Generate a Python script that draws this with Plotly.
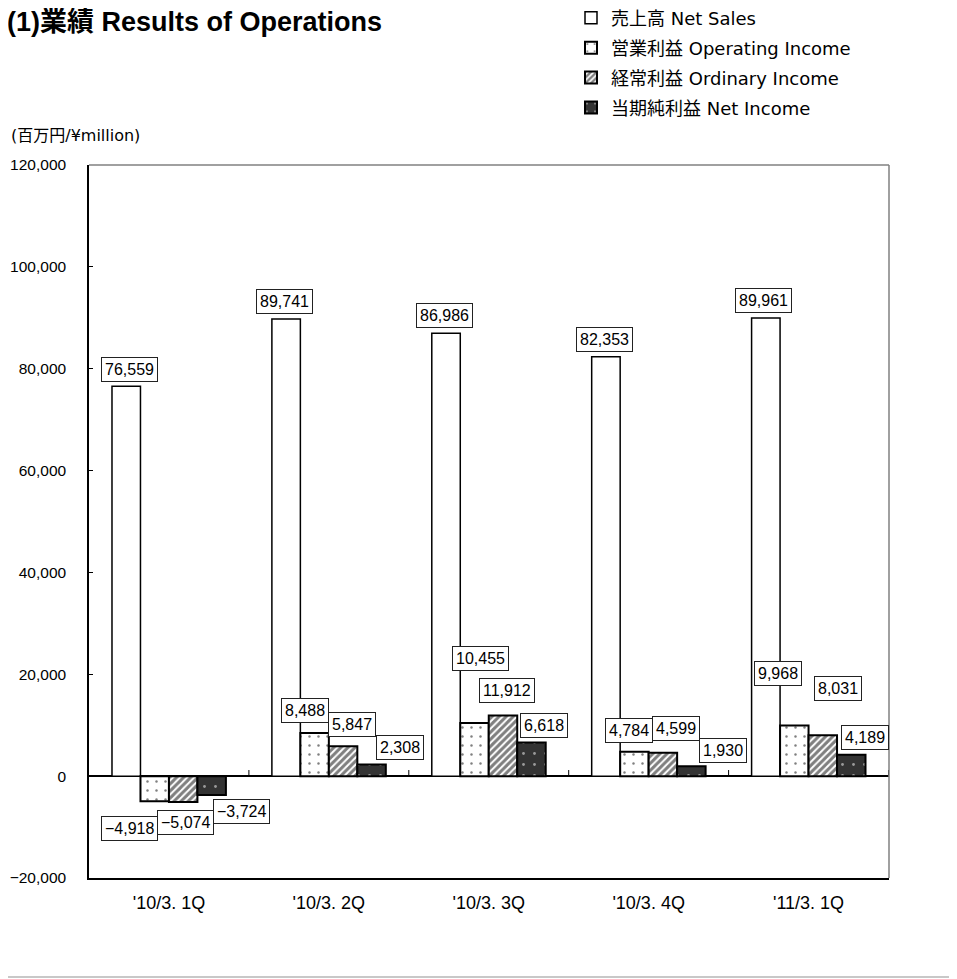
import plotly.graph_objects as go

# ---- data ----
categories = ["'10/3. 1Q", "'10/3. 2Q", "'10/3. 3Q", "'10/3. 4Q", "'11/3. 1Q"]
net_sales = [76559, 89741, 86986, 82353, 89961]
operating_income = [-4918, 8488, 10455, 4784, 9968]
ordinary_income = [-5074, 5847, 11912, 4599, 8031]
net_income = [-3724, 2308, 6618, 1930, 4189]
series_names = ["売上高 Net Sales", "営業利益 Operating Income",
                "経常利益 Ordinary Income", "当期純利益 Net Income"]
y_ticks = [-20000, 0, 20000, 40000, 60000, 80000, 100000, 120000]

# ---- label offsets (pixels, style only) ----
label_dx = [[-39, -44.5, -44, -44, -45.5],
            [-39.5, -24, -8, -19.5, -31],
            [17, 23, 18, 27, 29.5],
            [73, 71.5, 55, 74, 56]]
label_dy = [[17.2, 18, 17.6, 17.7, 17.9],
            [-26.9, 22.9, 64.9, 21.7, 52.3],
            [-20.1, 22.3, 25.4, 24.7, 46.7],
            [-15.9, 17.3, 17.4, 16.3, 17.8]]

LATIN = "Liberation Sans, Noto Sans CJK JP, sans-serif"
WIDE = "DejaVu Sans, Noto Sans CJK JP, sans-serif"

all_series = [net_sales, operating_income, ordinary_income, net_income]
styles = [
    dict(color="white", line=dict(color="black", width=1.5)),
    dict(color="white", line=dict(color="black", width=2),
         pattern=dict(shape=".", fgcolor="black", bgcolor="white", size=9, solidity=0.06)),
    dict(color="white", line=dict(color="black", width=2),
         pattern=dict(shape="/", fgcolor="black", bgcolor="white", size=5, solidity=0.6)),
    dict(color="#333333", line=dict(color="black", width=2),
         pattern=dict(shape=".", fgcolor="white", bgcolor="#333333", size=11, solidity=0.05)),
]

fig = go.Figure()
for name, vals, st, g in zip(series_names, all_series, styles, range(4)):
    fig.add_trace(go.Bar(x=categories, y=vals, name=name, marker=st,
                         legendgroup=f"g{g}", hoverinfo="x+y"))

def fmt(v):
    s = f"{abs(v):,}"
    return ("\u2212" + s) if v < 0 else s

annotations = []
for si, vals in enumerate(all_series):
    for ci, v in enumerate(vals):
        annotations.append(dict(
            x=categories[ci], y=v, xref="x", yref="y", text=fmt(v),
            showarrow=False, xanchor="center", yanchor="middle",
            xshift=label_dx[si][ci], yshift=label_dy[si][ci],
            font=dict(family=LATIN, size=16, color="black"),
            bgcolor="white", bordercolor="#222222", borderwidth=1, borderpad=3))

# title
annotations.append(dict(
    x=-0.105, y=1.2006, xref="paper", yref="paper",
    text="<b>(1)業績 Results of Operations</b>",
    showarrow=False, xanchor="left", yanchor="middle",
    font=dict(family=LATIN, size=27, color="black")))
# unit label
annotations.append(dict(
    x=-0.1, y=1.041, xref="paper", yref="paper", text="(百万円/¥million)",
    showarrow=False, xanchor="left", yanchor="middle",
    font=dict(family=WIDE, size=16, color="black")))

shapes = []
# category-boundary tick marks on the zero line
for b in [0.5, 1.5, 2.5, 3.5, 4.5]:
    shapes.append(dict(type="line", xref="x", yref="y", x0=b, x1=b, y0=0, y1=1200,
                       line=dict(color="black", width=1)))
# top and right frame lines (gray)
shapes.append(dict(type="line", xref="paper", yref="paper", x0=0, x1=1, y0=1, y1=1,
                   line=dict(color="#808080", width=1.5)))
shapes.append(dict(type="line", xref="paper", yref="paper", x0=1, x1=1, y0=0, y1=1,
                   line=dict(color="#808080", width=1.5)))
# page bottom rule
shapes.append(dict(type="line", xref="paper", yref="paper", x0=-0.12, x1=1.1,
                   y0=-0.1389, y1=-0.1389, line=dict(color="#c8c8c8", width=2)))

fig.update_layout(
    width=949, height=971,
    margin=dict(l=81, r=68, t=157, b=101, autoexpand=False),
    paper_bgcolor="white", plot_bgcolor="white",
    barmode="group", bargap=0.2875, bargroupgap=0,
    legend=dict(x=0.6025, y=1.232, xanchor="left", yanchor="top",
                font=dict(family=WIDE, size=18, color="black"),
                bgcolor="rgba(0,0,0,0)", traceorder="grouped", tracegroupgap=3.5,
                itemclick=False),
    showlegend=True,
    annotations=annotations,
    shapes=shapes,
)
fig.update_xaxes(showline=True, linecolor="black", linewidth=1.5, mirror=False,
                 ticks="", showgrid=False, automargin=False, ticklabelstandoff=8,
                 tickfont=dict(family="Liberation Sans Narrow, Liberation Sans, sans-serif",
                               size=18, color="black"))
fig.update_yaxes(range=[-20000, 120000], tickvals=y_ticks, tickformat=",",
                 showline=True, linecolor="black", linewidth=1.5, mirror=False,
                 ticks="inside", ticklen=4, tickcolor="black", showgrid=False,
                 zeroline=True, zerolinecolor="black", zerolinewidth=1.5,
                 ticklabelstandoff=18, automargin=False,
                 tickfont=dict(family=LATIN, size=15.5, color="black"))

fig.write_html("out.html")
